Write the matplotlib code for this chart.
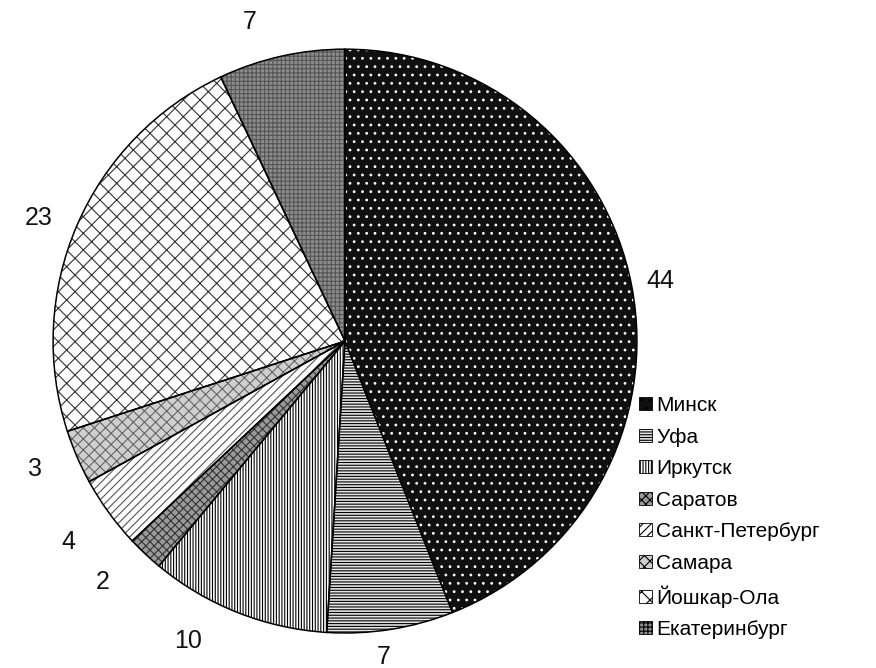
import numpy as np
import matplotlib
matplotlib.use('Agg')
import matplotlib.pyplot as plt
from matplotlib.patches import Patch

plt.rcParams['font.family'] = ['Liberation Sans', 'DejaVu Sans']
plt.rcParams['hatch.linewidth'] = 0.8

# Distribution by city (percent)
cities = ['Минск', 'Уфа', 'Иркутск', 'Саратов', 'Санкт-Петербург',
          'Самара', 'Йошкар-Ола', 'Екатеринбург']
shares = [44, 7, 10, 2, 4, 3, 23, 7]

# fill, hatch pattern, hatch colour for each city
faces = ['#101010', '#e4e4e4', '#ffffff', '#9a9a9a', '#ffffff', '#cfcfcf', '#ffffff', '#8c8c8c']
hatches = ['..', '------', '||||||', 'xxxx', '////', 'xxx', 'xx', '++++']
hatch_cols = ['#ffffff', '#000000', '#000000', '#333333', '#555555', '#666666', '#333333', '#555555']

# value label placement: radius (pie radius = 1) and angular nudge in degrees
label_r = [1.10, 1.09, 1.16, 1.17, 1.17, 1.15, 1.13, 1.14]
label_nudge = [0, -2, -6, -2, 0, -1, 1.5, 4]

fig = plt.figure(figsize=(8.76, 6.68), dpi=100)
ax = fig.add_axes([0.0605, 0.0524, 0.6667, 0.874])

wedges, _ = ax.pie(shares, startangle=90, counterclock=False, colors=faces)
for w, h, hc in zip(wedges, hatches, hatch_cols):
    w.set_hatch(h)
    w.set_edgecolor(hc)
    w.set_linewidth(0)

for w, v, r, dn in zip(wedges, shares, label_r, label_nudge):
    a = np.deg2rad((w.theta1 + w.theta2) / 2 + dn)
    ax.text(r * np.cos(a), r * np.sin(a), str(v), fontsize=18, color='#111111',
            ha='center', va='center')

# outlines drawn on top so hatch colour doesn't affect the borders
ax.pie(shares, startangle=90, counterclock=False,
       wedgeprops=dict(fill=False, edgecolor='black', linewidth=1.1))
ax.set_xlim(-1, 1)
ax.set_ylim(-1, 1)
ax.set_aspect('equal')
ax.axis('off')

handles = [Patch(facecolor=f, edgecolor='black', hatch=h, linewidth=0.6)
           for f, h in zip(faces, hatches)]
fig.legend(handles, cities, loc='upper left', bbox_to_anchor=(0.718, 0.4225),
           frameon=False, fontsize=15, handlelength=0.6, handleheight=0.6,
           handletextpad=0.2, labelspacing=0.6, borderpad=0)

fig.savefig('out.png', dpi=100)
